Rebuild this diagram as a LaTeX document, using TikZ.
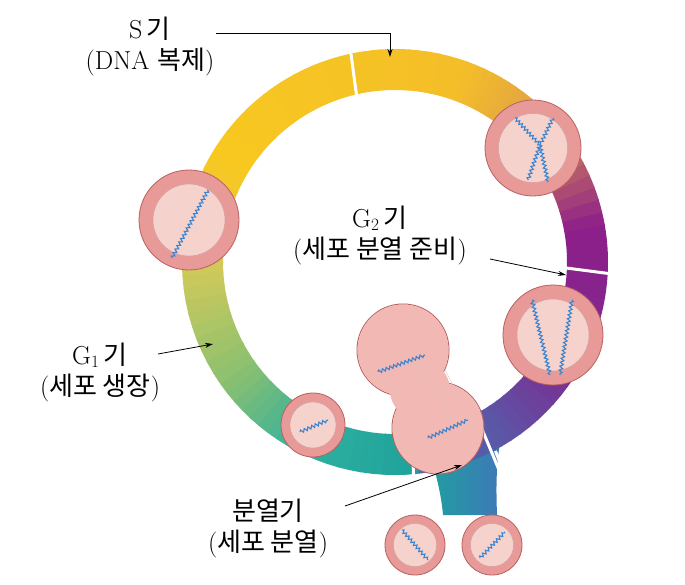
\documentclass[tikz,border=0pt]{standalone}
\usepackage{fontspec}
\newfontfamily\kr{Noto Sans CJK KR}
\usetikzlibrary{calc,decorations.pathmorphing,arrows.meta}
\definecolor{cellout}{HTML}{E89A98}
\definecolor{celledge}{HTML}{B86060}
\definecolor{cellin}{HTML}{F6D2CC}
\definecolor{divcell}{HTML}{F2B8B4}
\definecolor{chrom}{HTML}{3A84D0}
\definecolor{r0}{HTML}{4070B0}
\definecolor{r1}{HTML}{5A58A8}
\definecolor{r2}{HTML}{7E2A90}
\definecolor{r3}{HTML}{8E1E8A}
\definecolor{r4}{HTML}{E0A048}
\definecolor{r5}{HTML}{F4BE28}
\definecolor{r6}{HTML}{F8C820}
\definecolor{r7}{HTML}{D4CA58}
\definecolor{r8}{HTML}{8CC070}
\definecolor{r9}{HTML}{2EB0A0}
\definecolor{r10}{HTML}{1FA29A}
\definecolor{tailA}{HTML}{1E9FA0}
\definecolor{tailB}{HTML}{3F78B8}
\tikzset{
  lbl/.style={font=\fontsize{26}{31}\selectfont, align=center, inner sep=1pt},
  pt/.style={-{Stealth[length=8pt,width=5pt]}, line width=0.8pt},
  chr/.style={chrom, line width=1.1pt, decorate, decoration={snake, segment length=4pt, amplitude=1.6pt}},
  notch/.style={white, line width=3pt}
}
\newcommand{\mycell}[4]{% name x y r
  \node[circle, minimum size=#4*2pt, inner sep=0, fill=cellout, draw=celledge, line width=0.8pt] (#1) at (#2,#3) {};
  \fill[cellin] (#2,#3) circle[radius=#4*0.72];
  \draw[celledge!60, line width=0.5pt] (#2,#3) circle[radius=#4*0.72];
}
\begin{document}
\begin{tikzpicture}[x=1pt,y=1pt]
\useasboundingbox (0,0) rectangle (685,-585);
\fill[white] (0,0) rectangle (685,-585);
\coordinate (C) at (395,-262);
\def\Ro{213}\def\Ri{172}
% tail
\shade[left color=tailA, right color=tailB]
  (428,-440) to[out=-80,in=95] (443,-515) -- (497,-515) to[out=92,in=-100] (502,-430) -- cycle;
% ring
\foreach \aa/\ab/\ca/\cb in {
 -84/-60/r0/r1, -60/-30/r1/r2, -30/10/r2/r3, 10/45/r3/r4, 45/70/r4/r5,
 70/150/r5/r6, 150/180/r6/r7, 180/215/r7/r8, 215/245/r8/r9, 245/276/r9/r10}{
  \foreach \k in {0,...,9}{
    \pgfmathsetmacro{\sa}{\aa+(\ab-\aa)*\k/10}
    \pgfmathsetmacro{\sb}{\aa+(\ab-\aa)*(\k+1)/10+0.4}
    \pgfmathtruncatemacro{\pp}{100-10*\k-5}
    \fill[\ca!\pp!\cb] ([shift={(\sa:\Ro)}]C) arc[start angle=\sa, end angle=\sb, radius=\Ro]
      -- ([shift={(\sb:\Ri)}]C) arc[start angle=\sb, end angle=\sa, radius=\Ri] -- cycle;
  }
}
% notches
\foreach \a in {103,-2,-62}{
  \draw[notch] ([shift={(\a:\Ri-1)}]C) -- ([shift={(\a-3:(\Ri+\Ro)/2)}]C) -- ([shift={(\a:\Ro+1)}]C);
}
\draw[notch] ([shift={(-84:\Ri-1)}]C) -- ([shift={(-87:(\Ri+\Ro)/2)}]C) -- ([shift={(-84:\Ro+1)}]C);
% cells
\mycell{c1}{189}{-220}{50}
\draw[chr] (172,-258) -- (208,-190);
\mycell{c2}{533}{-148}{48}
\draw[chr] (515,-118) -- (540,-145);
\draw[chr] (553,-118) -- (540,-145);
\draw[chr] (540,-145) -- (528,-180);
\draw[chr] (540,-145) -- (548,-182);
\mycell{c3}{553}{-335}{50}
\draw[chr] (532,-300) -- (550,-375);
\draw[chr] (572,-300) -- (560,-375);
\mycell{c4}{313}{-425}{32}
\draw[chr] (300,-432) -- (328,-420);
% dividing cell
\draw[celledge, line width=1pt] (403,-350) circle[radius=46] (438,-428) circle[radius=46];
\fill[divcell] (403,-350) circle[radius=45.5] (438,-428) circle[radius=45.5];
\fill[divcell] (420,-390) circle[radius=30];
\node[circle, minimum size=80pt, inner sep=0] (dv) at (420,-390) {};
\draw[celledge!40, line width=0.3pt] (380,-330) to[bend left=10] (465,-440) (395,-318) to[bend left=8] (462,-455) (372,-345) to[bend right=8] (448,-462) (410,-312) to[bend left=6] (470,-425);
\draw[chr] (378,-372) -- (425,-355);
\draw[chr] (428,-438) -- (468,-420);
\mycell{c5}{415}{-545}{30}
\draw[chr] (402,-530) -- (428,-560);
\mycell{c6}{492}{-545}{30}
\draw[chr] (480,-558) -- (505,-532);
% labels
\node[lbl] (s) at (150,-47) {S\,{\kr 기}\\({DNA} {\kr 복제})};
\coordinate (s0) at (216,-33);
\coordinate (s1) at (390,-33);
\coordinate (s2) at (390,-57);
\draw[pt] (s0) -- (s1) -- (s2);
\node[lbl] (g2) at (380,-235) {G$_2$\,{\kr 기}\\({\kr 세포 분열 준비})};
\coordinate (g2e) at (566,-275);
\draw[pt] (490,-259) -- (g2e);
\node[lbl] (g1) at (100,-372) {G$_1$\,{\kr 기}\\({\kr 세포 생장})};
\coordinate (g1e) at (213,-344);
\draw[pt] (158,-354) -- (g1e);
\node[lbl] (m) at (268,-528) {{\kr 분열기}\\({\kr 세포 분열})};
\coordinate (me) at (462,-465);
\draw[pt] (345,-506) -- (me);
\end{tikzpicture}
\end{document}
